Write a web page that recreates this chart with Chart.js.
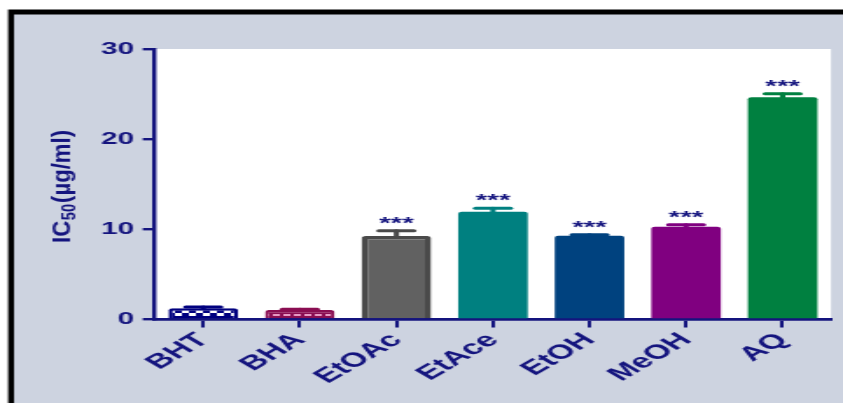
<!DOCTYPE html>
<html>
<head>
<meta charset="utf-8">
<script src="https://cdn.jsdelivr.net/npm/chart.js@4/dist/chart.umd.min.js"></script>
<style>
  html, body { margin: 0; padding: 0; background: #ffffff; overflow: hidden; }
  #wrap { width: 482px; height: 403px; transform: scaleX(1.74896); transform-origin: 0 0; }
  canvas { display: block; }
</style>
</head>
<body>
<div id="wrap"><canvas id="c" width="482" height="403"></canvas></div>
<script>
// ---- data ----
const categories   = ['BHT', 'BHA', 'EtOAc', 'EtAce', 'EtOH', 'MeOH', 'AQ'];
const ic50         = [1.25, 1.05, 9.25, 11.95, 9.3, 10.3, 24.65];
const sem          = [0.15, 0.08, 0.6, 0.4, 0.1, 0.22, 0.38];
const significance = ['', '', '***', '***', '***', '***', '***'];
const yMin = 0, yMax = 30, yStep = 10;
const yTitleMain = 'IC', yTitleSub = '50', yTitleUnit = '(µg/ml)';

// ---- styles ----
const NAVY = '#14147e';
const BG = '#cdd3e0';
const FONT = "'Liberation Sans', Arial, sans-serif";

function makePattern(w, h, bg, fg, rects) {
  const pc = document.createElement('canvas');
  pc.width = w; pc.height = h;
  const p = pc.getContext('2d');
  p.fillStyle = bg; p.fillRect(0, 0, w, h);
  p.fillStyle = fg;
  rects.forEach(r => p.fillRect(r[0], r[1], r[2], r[3]));
  return document.getElementById('c').getContext('2d').createPattern(pc, 'repeat');
}
const bhtPattern = makePattern(8, 12, '#00007f', '#ffffff', [[0, 10, 4, 2], [0, 0, 4, 1], [4, 1, 4, 3]]);
const bhaPattern = makePattern(6, 12, '#8a0d52', '#e89ac4', [[0, 2, 4, 2]]);

const fills   = [bhtPattern, bhaPattern, '#616161', '#008080', '#00427f', '#800080', '#008040'];
const borders = ['#00007f', '#8a0d52', '#4a4a4a', '#008080', '#00427f', '#800080', '#008040'];
const borderW = [2.5, 2.2, 3.5, 0, 0, 0, 0];

const bgPlugin = {
  id: 'bgPlugin',
  beforeDraw(chart) {
    const ctx = chart.ctx, W = chart.width, H = chart.height, a = chart.chartArea;
    ctx.save();
    ctx.fillStyle = '#ffffff'; ctx.fillRect(0, 0, W, H);
    ctx.fillStyle = '#000000'; ctx.fillRect(4.6, 9.5, W, H);
    ctx.fillStyle = BG; ctx.fillRect(8.0, 14.5, W, H);
    ctx.fillStyle = '#ffffff'; ctx.fillRect(a.left, a.top, a.right - a.left, a.bottom - a.top);
    ctx.restore();
  }
};

const errPlugin = {
  id: 'errPlugin',
  afterDatasetsDraw(chart) {
    const ctx = chart.ctx, meta = chart.getDatasetMeta(0), ys = chart.scales.y;
    ctx.save();
    meta.data.forEach((bar, i) => {
      const yBar = ys.getPixelForValue(ic50[i]);
      const yTop = ys.getPixelForValue(ic50[i] + sem[i]);
      ctx.strokeStyle = borders[i];
      ctx.lineCap = 'round';
      ctx.lineWidth = 3;
      ctx.beginPath(); ctx.moveTo(bar.x, yBar); ctx.lineTo(bar.x, yTop); ctx.stroke();
      ctx.beginPath(); ctx.moveTo(bar.x - 10, yTop); ctx.lineTo(bar.x + 10, yTop); ctx.stroke();
      if (significance[i]) {
        ctx.fillStyle = NAVY;
        ctx.font = 'bold 17px ' + FONT;
        ctx.textAlign = 'center';
        ctx.textBaseline = 'alphabetic';
        ctx.fillText(significance[i], bar.x, yTop - 2);
      }
    });
    ctx.restore();
  }
};

const titlePlugin = {
  id: 'titlePlugin',
  afterDraw(chart) {
    const ctx = chart.ctx;
    ctx.save();
    const fMain = 'bold 15px ' + FONT, fSub = 'bold 10px ' + FONT;
    ctx.font = fMain;
    const w1 = ctx.measureText(yTitleMain).width;
    const w3 = ctx.measureText(yTitleUnit).width;
    ctx.font = fSub;
    const w2 = ctx.measureText(yTitleSub).width + 1;
    const total = w1 + w2 + w3;
    const k = 113 / total;
    ctx.translate(40, 243);
    ctx.rotate(-Math.PI / 2);
    ctx.scale(k, 1);
    ctx.fillStyle = NAVY;
    ctx.textAlign = 'left';
    ctx.textBaseline = 'alphabetic';
    ctx.font = fMain; ctx.fillText(yTitleMain, 0, 0);
    ctx.font = fSub; ctx.fillText(yTitleSub, w1 + 0.5, 2.5);
    ctx.font = fMain; ctx.fillText(yTitleUnit, w1 + w2, 0);
    ctx.restore();
  }
};

new Chart(document.getElementById('c'), {
  type: 'bar',
  data: {
    labels: categories,
    datasets: [{
      data: ic50,
      backgroundColor: fills,
      borderColor: borders,
      borderWidth: borderW,
      borderRadius: 2,
      borderSkipped: 'bottom',
      barPercentage: 0.72,
      categoryPercentage: 1.0
    }]
  },
  options: {
    responsive: false,
    devicePixelRatio: 1,
    animation: false,
    layout: { padding: { left: 0, right: 6.9, top: 49, bottom: 0 } },
    plugins: { legend: { display: false }, tooltip: { enabled: false }, title: { display: false } },
    scales: {
      x: {
        offset: true,
        grid: { display: true, drawOnChartArea: false, drawTicks: true, tickLength: 8, color: NAVY, lineWidth: 2, offset: false },
        border: { display: true, color: NAVY, width: 2.8 },
        ticks: { color: NAVY, font: { family: FONT, size: 20, weight: 'bold' }, minRotation: 45, maxRotation: 45, autoSkip: false, padding: 1 },
        afterFit(scale) { scale.height = 83.5; }
      },
      y: {
        min: yMin, max: yMax,
        grid: { display: true, drawOnChartArea: false, drawTicks: true, tickLength: 7, color: NAVY, lineWidth: 2.4 },
        border: { display: true, color: NAVY, width: 2.4 },
        ticks: { stepSize: yStep, color: NAVY, font: { family: FONT, size: 17, weight: 'bold' }, padding: 5 },
        afterFit(scale) { scale.width = 88.6; }
      }
    }
  },
  plugins: [bgPlugin, errPlugin, titlePlugin]
});
</script>
</body>
</html>
